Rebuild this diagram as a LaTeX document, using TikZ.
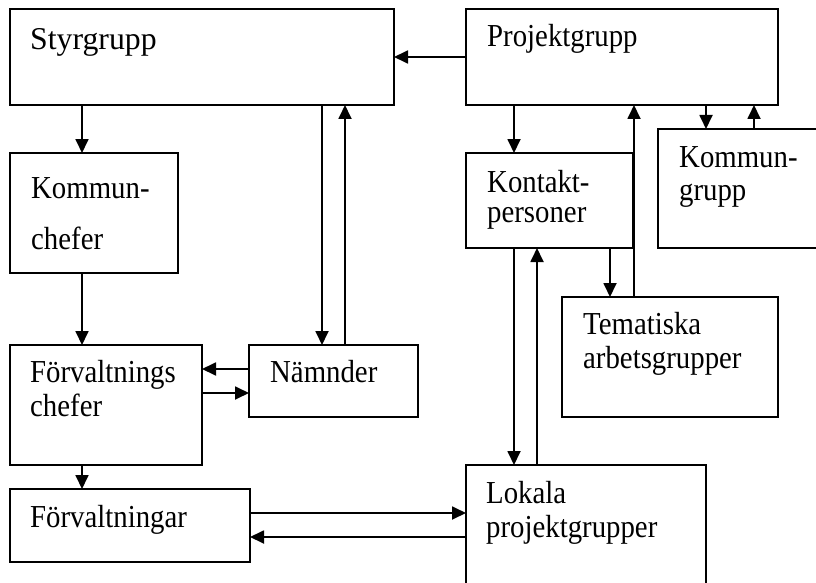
\documentclass[tikz,border=0pt]{standalone}
\usepackage{fontspec}
\setmainfont{Liberation Serif}
\newfontfamily\narrowfont[FakeStretch=0.9]{Liberation Serif}
\usetikzlibrary{arrows.meta}
\begin{document}
\begin{tikzpicture}[x=1pt,y=-1pt,
  box/.style={draw=black,line width=1.8pt,fill=white,inner sep=0pt,outer sep=0pt,anchor=north west},
  lbl/.style={anchor=base west,inner sep=0pt,font=\narrowfont\fontsize{32}{34}\selectfont},
  widelbl/.style={anchor=base west,inner sep=0pt,font=\fontsize{31.75}{34}\selectfont},
  arr/.style={line width=1.8pt,-{Triangle[length=14pt,width=13pt]}}]
\useasboundingbox (0,0) rectangle (816,583);
\clip (0,0) rectangle (816,583);
\fill[white] (0,0) rectangle (816,583);
% boxes
\node[box,minimum width=384pt,minimum height=96pt] (styr) at (10,9) {};
\node[box,minimum width=312pt,minimum height=96pt] (proj) at (466,9) {};
\node[box,minimum width=168pt,minimum height=120pt] (komchef) at (10,153) {};
\node[box,minimum width=167pt,minimum height=95pt] (kontakt) at (466,153) {};
\node[box,minimum width=172pt,minimum height=119pt] (komgrupp) at (658,129) {};
\node[box,minimum width=216pt,minimum height=120pt] (tema) at (562,297) {};
\node[box,minimum width=192pt,minimum height=120pt] (forvchef) at (10,345) {};
\node[box,minimum width=169pt,minimum height=72pt] (namnd) at (249,345) {};
\node[box,minimum width=240pt,minimum height=73pt] (forvn) at (10,489) {};
\node[box,minimum width=240pt,minimum height=140pt] (lokala) at (466,465) {};
% texts
\node[widelbl] (t1) at (30,50) {Styrgrupp};
\node[lbl] (t2) at (487,47) {Projektgrupp};
\node[lbl] (t3a) at (31,198) {Kommun-};
\node[lbl] (t3b) at (31,249) {chefer};
\node[lbl] (t4a) at (487,192) {Kontakt-};
\node[lbl] (t4b) at (487,222) {personer};
\node[lbl] (t5a) at (679,167) {Kommun-};
\node[lbl] (t5b) at (679,200) {grupp};
\node[lbl] (t6a) at (583,334) {Tematiska};
\node[lbl] (t6b) at (583,368) {arbetsgrupper};
\node[lbl] (t7a) at (30,382) {Förvaltnings};
\node[lbl] (t7b) at (30,416) {chefer};
\node[lbl] (t8) at (270,382) {Nämnder};
\node[lbl] (t9) at (30,527) {Förvaltningar};
\node[lbl] (t10a) at (486,503) {Lokala};
\node[lbl] (t10b) at (486,537) {projektgrupper};
% helper coordinates
\coordinate (xa) at (82,0);
\coordinate (xn1) at (322,0);
\coordinate (xn2) at (345,0);
\coordinate (xk1) at (514,0);
\coordinate (xk2) at (537,0);
\coordinate (xt1) at (610,0);
\coordinate (xt2) at (634,0);
\coordinate (xg1) at (706,0);
\coordinate (xg2) at (754,0);
\coordinate (y1) at (0,57);
\coordinate (yn1) at (0,369);
\coordinate (yn2) at (0,393);
\coordinate (yf1) at (0,513);
\coordinate (yf2) at (0,537);
% connectors
\draw[arr] (proj.west |- y1) -- (styr.east |- y1);
\draw[arr] (styr.south -| xa) -- (komchef.north -| xa);
\draw[arr] (komchef.south -| xa) -- (forvchef.north -| xa);
\draw[arr] (styr.south -| xn1) -- (namnd.north -| xn1);
\draw[arr] (namnd.north -| xn2) -- (styr.south -| xn2);
\draw[arr] (namnd.west |- yn1) -- (forvchef.east |- yn1);
\draw[arr] (forvchef.east |- yn2) -- (namnd.west |- yn2);
\draw[arr] (forvchef.south -| xa) -- (forvn.north -| xa);
\draw[arr] (forvn.east |- yf1) -- (lokala.west |- yf1);
\draw[arr] (lokala.west |- yf2) -- (forvn.east |- yf2);
\draw[arr] (proj.south -| xk1) -- (kontakt.north -| xk1);
\draw[arr] (kontakt.south -| xk1) -- (lokala.north -| xk1);
\draw[arr] (lokala.north -| xk2) -- (kontakt.south -| xk2);
\draw[arr] (kontakt.south -| xt1) -- (tema.north -| xt1);
\draw[arr] (tema.north -| xt2) -- (proj.south -| xt2);
\draw[arr] (proj.south -| xg1) -- (komgrupp.north -| xg1);
\draw[arr] (komgrupp.north -| xg2) -- (proj.south -| xg2);
\end{tikzpicture}
\end{document}
